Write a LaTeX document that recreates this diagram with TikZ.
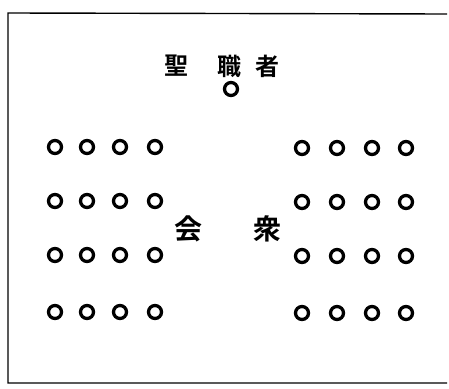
\documentclass[tikz,border=0pt]{standalone}
\usepackage{fontspec}
\newfontfamily\cjk{Noto Sans CJK JP Bold}
\begin{document}
\begin{tikzpicture}[x=1pt,y=-1pt,
  seat/.style={circle,draw=black,line width=3.3pt,minimum size=13pt,inner sep=0pt},
  lbl/.style={font=\cjk\fontsize{24}{24}\selectfont,inner sep=0pt},
  big/.style={font=\cjk\fontsize{28}{28}\selectfont,inner sep=0pt},
  frame/.style={line width=1.4pt}]
\useasboundingbox (0,0) rectangle (449,388);
\coordinate (tl) at (8,13);
\coordinate (tr) at (447,14);
\coordinate (bl) at (8,383);
\coordinate (br) at (447,383);
\draw[frame] (tr) -- (tl) -- (bl) -- (br);
\node[lbl] (t1) at (176,66) {聖};
\node[lbl] (t2) at (229,66) {職};
\node[lbl] (t3) at (267,66) {者};
\node[seat] (p) at (231,89) {};
\foreach \r/\y in {1/147,2/201,3/255,4/312}{
  \foreach \c/\x in {1/55,2/87,3/120,4/155}{
    \node[seat] (L\r\c) at (\x,\y) {};
  }
  \foreach \c/\x in {1/302,2/337,3/372,4/406}{
    \node[seat] (R\r\c) at (\x,\y+1) {};
  }
}
\node[big] (k1) at (188,229) {会};
\node[big] (k2) at (267,229) {衆};
\end{tikzpicture}
\end{document}
